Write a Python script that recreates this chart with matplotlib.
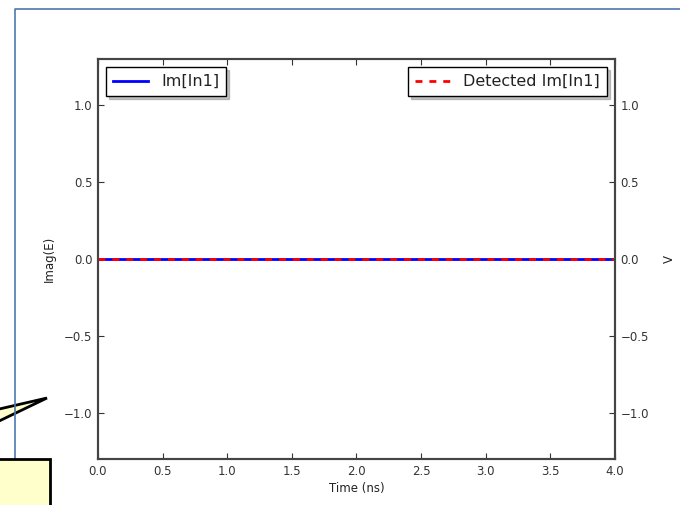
import numpy as np
import matplotlib
matplotlib.use("Agg")
import matplotlib.pyplot as plt
from matplotlib.patches import Polygon, Rectangle
from matplotlib.lines import Line2D

# time axis in ns and the imaginary part of the input field / detector output
time_ns = [0.0, 0.5, 1.0, 1.5, 2.0, 2.5, 3.0, 3.5, 4.0]
im_in1 = [0.0, 0.0, 0.0, 0.0, 0.0, 0.0, 0.0, 0.0, 0.0]
detected_im_in1 = [0.0, 0.0, 0.0, 0.0, 0.0, 0.0, 0.0, 0.0, 0.0]

x_ticks = [0.0, 0.5, 1.0, 1.5, 2.0, 2.5, 3.0, 3.5, 4.0]
y_ticks = [-1.0, -0.5, 0.0, 0.5, 1.0]

W, H = 680, 505


def fx(px):
    return px / W


def fy(py):
    return 1 - py / H


fig = plt.figure(figsize=(6.8, 5.05), dpi=100)
fig.patch.set_facecolor("white")

# callout in the lower left corner, slide frame on top of its pointer
pointer = Polygon([[fx(-5), fy(410)], [fx(47), fy(398)], [fx(-5), fy(423)]],
                  closed=True, transform=fig.transFigure,
                  facecolor="#ffffcc", edgecolor="black", lw=2, zorder=1)
fig.patches.append(pointer)
frame = Line2D([fx(15), fx(15), fx(700)], [fy(459), fy(9), fy(9)],
               transform=fig.transFigure, color="#4f78b0", lw=1.2, zorder=2)
fig.lines.append(frame)
box = Rectangle((fx(-10), fy(520)), fx(60), fy(459) - fy(520),
                transform=fig.transFigure, facecolor="#ffffcc",
                edgecolor="black", lw=2, zorder=3)
fig.patches.append(box)

ax = fig.add_axes([fx(98), fy(459), fx(615) - fx(98), fy(59) - fy(459)])
ax2 = ax.twinx()

ax.plot(time_ns, im_in1, color="blue", lw=2, label="Im[In1]")
ax2.plot(time_ns, detected_im_in1, color="red", lw=2, dashes=(2.5, 2.5),
         label="Detected Im[In1]")

for a in (ax, ax2):
    a.set_xlim(0, 4)
    a.set_ylim(-1.3, 1.3)
    a.set_yticks(y_ticks)
    a.tick_params(direction="in", length=4, labelsize=8.5, colors="#333333",
                  width=0.8, pad=4)
    for s in a.spines.values():
        s.set_color("#444444")
        s.set_linewidth(1.5)

ax.set_xticks(x_ticks)
ax.tick_params(top=True)
ax.set_xlabel("Time (ns)", fontsize=8.5, color="#222222", labelpad=3)
ax.set_ylabel("Imag(E)", fontsize=8.5, color="#222222", labelpad=6)
ax2.set_ylabel("V", fontsize=8.5, color="#222222", labelpad=10)

leg_kw = dict(fontsize=11.5, fancybox=False, framealpha=1,
              shadow=dict(ox=2, oy=-2, color="#888888"),
              edgecolor="black", handlelength=2.2, borderpad=0.45,
              borderaxespad=0.5)
l1 = ax.legend(loc="upper left", **leg_kw)
l2 = ax2.legend(loc="upper right", **leg_kw)
for l in (l1, l2):
    l.get_frame().set_linewidth(1.0)
    for t in l.get_texts():
        t.set_color("#222222")

fig.savefig("out.png", dpi=100, facecolor="white")
